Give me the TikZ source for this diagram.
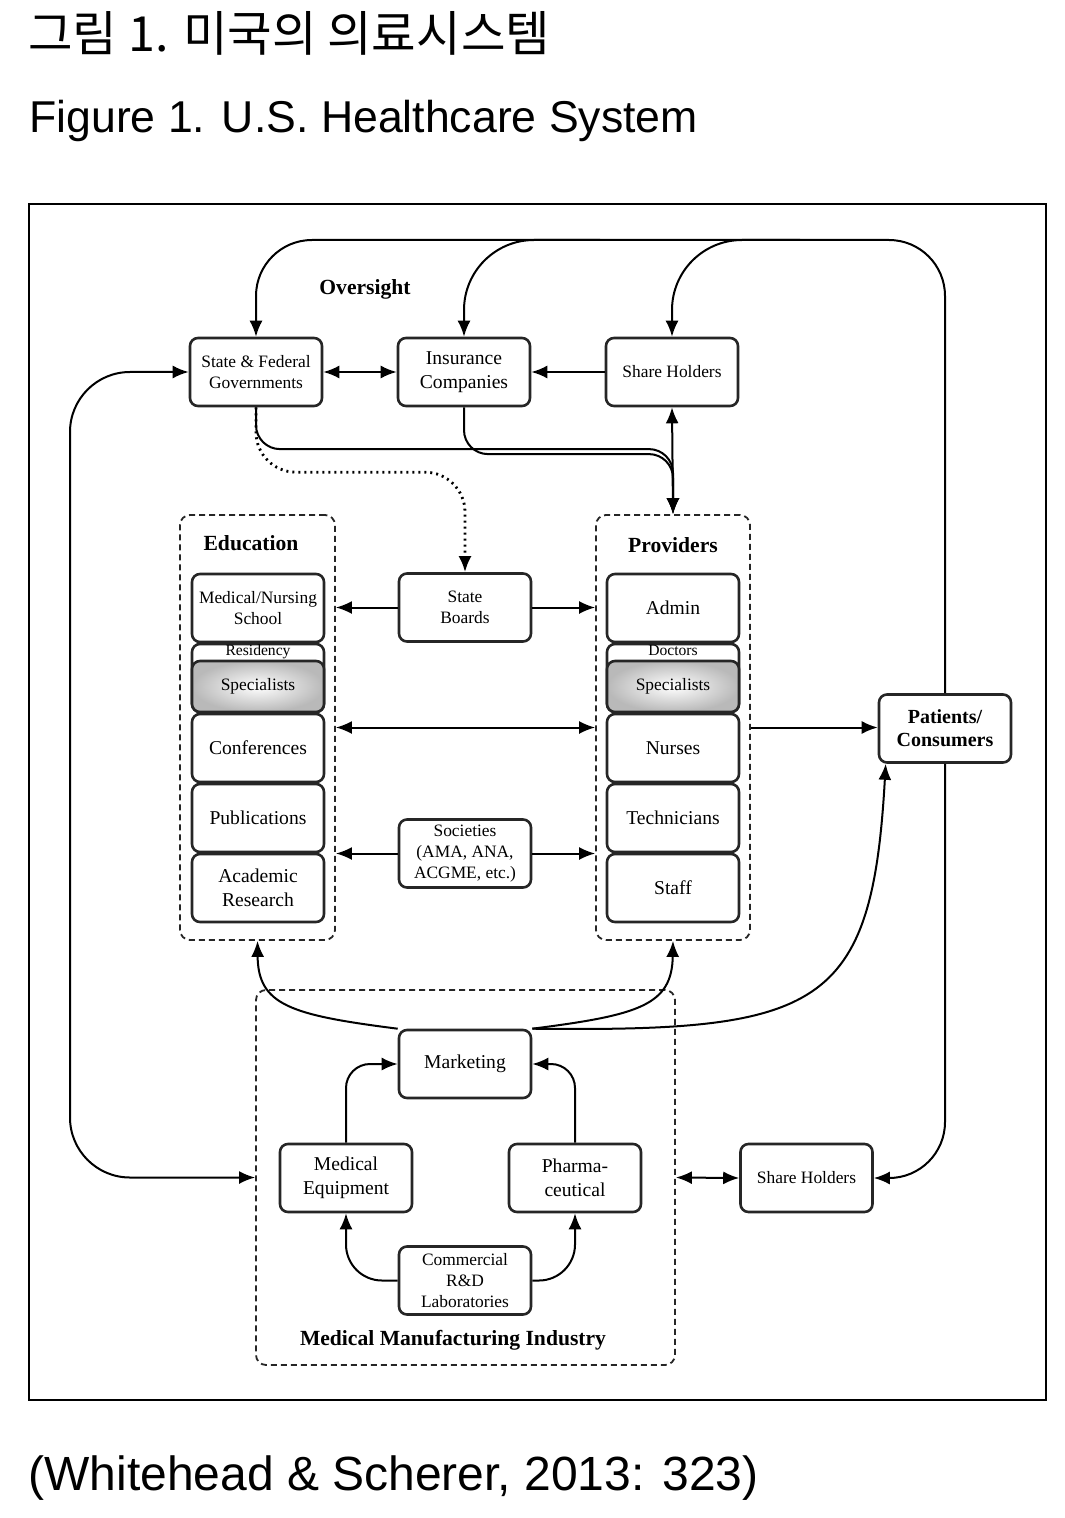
\documentclass[tikz,border=0pt]{standalone}
\usepackage{fontspec}
\setmainfont{Liberation Serif}
\newfontfamily\koreanfont{Noto Sans CJK KR}
\newfontfamily\captionfont{Liberation Sans}
\usetikzlibrary{arrows.meta}
\usetikzlibrary{calc}
\newcommand{\widthbox}{66pt}
\newcommand{\heightbox}{34pt}
\newcommand{\rowstep}{70}
\newcommand{\colstep}{208}
\tikzset{
    common/.style={draw=black!85, line width=1.3pt, rectangle, rounded corners=4pt, align=center, inner sep=1pt},
    box/.style={common, minimum width=\widthbox, minimum height=\heightbox, font=\fontsize{8.7}{10.8}\selectfont},
    item/.style={box, font=\fontsize{9.8}{12}\selectfont},
    subitem/.style={common, minimum width=\widthbox, minimum height=25.5pt, inner color=white, outer color=gray!55, font=\fontsize{8.7}{10.8}\selectfont},
    toplabel/.style={anchor=north, inner sep=1pt, font=\fontsize{7.8}{8}\selectfont},
    area/.style={draw=black!85, densely dashed, line width=0.9pt, rounded corners=5pt},
    heading/.style={font=\fontsize{10.8}{12}\selectfont\bfseries},
    flow/.style={line width=1pt, -{Latex[length=8pt,width=6.5pt]}},
    twoway/.style={line width=1pt, {Latex[length=8pt,width=6.5pt]}-{Latex[length=8pt,width=6.5pt]}}
}
\begin{document}
\begin{tikzpicture}[x=0.5pt, y=-0.5pt]
    \useasboundingbox (0,0) rectangle (1064,1518);

    \node[anchor=base west, inner sep=0, font=\koreanfont\fontsize{24.2}{28}\selectfont] (title-ko) at (28,52) {그림 1. 미국의 의료시스템};
    \node[anchor=base west, inner sep=0, font=\captionfont\fontsize{22.3}{26}\selectfont] (title-en) at (29,133) {Figure 1. U.S. Healthcare System};
    \node[anchor=base west, inner sep=0, font=\captionfont\fontsize{24}{28}\selectfont] (source) at (28,1490) {(Whitehead \& Scherer, 2013: 323)};
    \draw[line width=1pt] (29,204) rectangle (1046,1400);

    \node[area, minimum width=77.5pt, minimum height=212.5pt] (edu-area) at (257.5,727.5) {};
    \node[area, minimum width=77pt, minimum height=212.5pt] (prov-area) at (673,727.5) {};
    \node[area, minimum width=209.5pt, minimum height=187.5pt] (mmi-area) at (465.5,1177.5) {};

    \node[heading] (oversight) at (365,289) {Oversight};
    \node[heading] (edu-title) at (251,543) {Education};
    \node[heading] (prov-title) at (673,545) {Providers};
    \node[heading] (mmi-title) at (453,1340) {Medical Manufacturing Industry};

    \path
        (256,372) node[box] (gov) {State \& Federal\\Governments}
        ++(\colstep,0) node[item] (ins) {Insurance\\Companies}
        ++(\colstep,0) node[box] (sh-top) {Share Holders};

    \path
        (258,608) node[box] (edu-school) {Medical/Nursing\\School}
        ++(0,\rowstep) node[box,
                  label={[toplabel]north:Residency}
                      ] (edu-residency) {}
        ++(0,\rowstep) node[item] (edu-conf) {Conferences}
        ++(0,\rowstep) node[item] (edu-pub) {Publications}
        ++(0,\rowstep) node[item] (edu-research) {Academic\\Research};
    \node[subitem, anchor=south] (edu-spec) at (edu-residency.south) {Specialists};

    \path
        (673,608) node[item] (prov-admin) {Admin}
        ++(0,\rowstep) node[box,
                  label={[toplabel]north:Doctors}
                      ] (prov-doctors) {}
        ++(0,\rowstep) node[item] (prov-nurses) {Nurses}
        ++(0,\rowstep) node[item] (prov-tech) {Technicians}
        ++(0,\rowstep) node[item] (prov-staff) {Staff};
    \node[subitem, anchor=south] (prov-spec) at (prov-doctors.south) {Specialists};

    \node[box] (boards) at (465,607.5) {State\\Boards};
    \node[box, font=\fontsize{8.7}{10.6}\selectfont] (societies) at (465,853.5) {Societies\\(AMA, ANA,\\ACGME, etc.)};
    \node[box, font=\fontsize{10}{11.5}\selectfont\bfseries] (patients) at (945,728.5) {Patients/\\Consumers};

    \node[item] (marketing) at (465,1064) {Marketing};
    \path
        (346,1178) node[item] (equipment) {Medical\\Equipment}
        ++(229,0) node[item] (pharma) {Pharma-\\ceutical}
        ++(231.5,0) node[box] (sh-bottom) {Share Holders};
    \node[box, font=\fontsize{8.7}{10.5}\selectfont] (labs) at (465,1280.5) {Commercial\\R\&D\\Laboratories};

    \coordinate (top-line) at (600,240);
    \coordinate (top-line-east) at (800,240);
    \coordinate (left-line) at (70,800);

    \draw[twoway] (gov.east) -- (ins.west);
    \draw[flow] (sh-top.west) -- (ins.east);
    \draw[twoway] (sh-top.south) -- (prov-area.north);
    \draw[flow, rounded corners=12pt] (gov.south) |- ($(prov-area.north)+(0,-65)$) -- (prov-area.north);
    \draw[flow, rounded corners=12pt] (ins.south) |- ($(prov-area.north)+(0,-60)$) -- (prov-area.north);
    \draw[flow, dotted, line width=1.4pt, rounded corners=20pt] (gov.south) |- ($(boards.north)+(0,-100)$) -- (boards.north);

    \draw[flow, rounded corners=28pt] (patients.north) |- (top-line) -| (gov.north);
    \draw[flow, rounded corners=35pt] (top-line) -| (ins.north);
    \draw[flow, rounded corners=35pt] (top-line-east) -| (sh-top.north);
    \draw[flow, rounded corners=28pt] (patients.south) |- (sh-bottom.east);
    \draw[twoway, rounded corners=30pt] (gov.west) -| (left-line) |- (mmi-area.west);

    \draw[flow] (boards.west) -- (boards.west -| edu-area.east);
    \draw[flow] (boards.east) -- (boards.east -| prov-area.west);
    \draw[twoway] (edu-area.east) -- (prov-area.west);
    \draw[flow] (societies.west) -- (societies.west -| edu-area.east);
    \draw[flow] (societies.east) -- (societies.east -| prov-area.west);
    \draw[flow] (prov-area.east) -- (prov-area.east -| patients.west);

    \draw[flow, rounded corners=12pt] (equipment.north) |- (marketing.west);
    \draw[flow, rounded corners=12pt] (pharma.north) |- (marketing.east);
    \draw[flow, rounded corners=18pt] (labs.west) -| (equipment.south);
    \draw[flow, rounded corners=18pt] (labs.east) -| (pharma.south);
    \draw[flow] (marketing.north west) .. controls (290,1015) and (258,1005) .. (edu-area.south);
    \draw[flow] (marketing.north east) .. controls (640,1015) and (672,1005) .. (prov-area.south);
    \draw[flow] (marketing.north east) .. controls (820,1032) and (872,1010) .. ([xshift=4pt]patients.south west);
    \draw[twoway] (mmi-area.east) -- (sh-bottom.west);
\end{tikzpicture}
\end{document}
